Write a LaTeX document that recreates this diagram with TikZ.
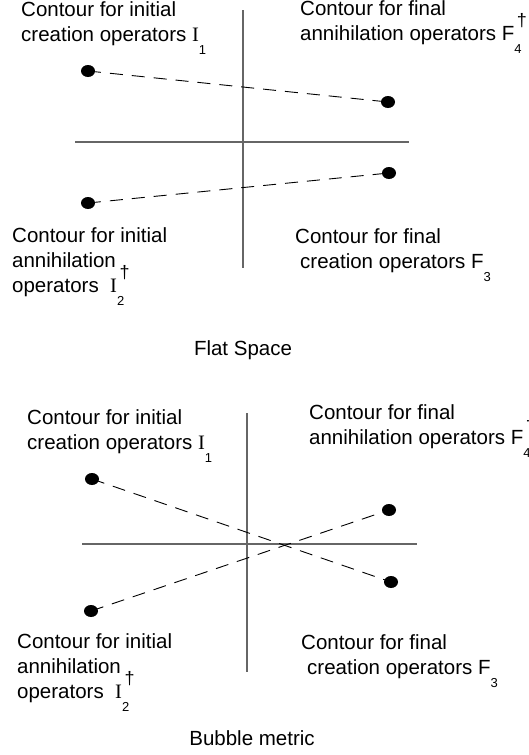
\documentclass[tikz,border=0pt]{standalone}
\usepackage{fontspec}
\setmainfont{Liberation Sans}
\newfontfamily\romanI{Liberation Serif}
\usepackage{tikz}
\usetikzlibrary{shapes.geometric}
\newcommand{\opsub}[1]{\rlap{\smash{\raisebox{-13pt}{\fontsize{13}{13}\selectfont #1}}}}
\newcommand{\opdag}{\rlap{\smash{\hspace{2.5pt}\raisebox{14pt}{\fontsize{18}{18}\selectfont †}}}}

\begin{document}
\begin{tikzpicture}[x=1pt,y=-1pt,
    axis/.style={gray!80!black,line width=1.1pt},
    contour/.style={dash pattern=on 13pt off 9pt,line width=0.9pt},
    pole/.style={ellipse,fill,inner sep=0,minimum width=14pt,minimum height=12pt},
    lbl/.style={anchor=base west,inner sep=0,align=left,font=\fontsize{20.5}{25}\selectfont},
    caption/.style={anchor=base,inner sep=0,font=\fontsize{20.5}{25}\selectfont}]
    \useasboundingbox (0,0) rectangle (528,755);

    % Flat space: axes
    \draw[axis] (243,10) -- (243,268);
    \draw[axis] (75,142) -- (409,142);

    % Flat space: poles and contours
    \node[pole] (fi1) at (88,71) {};
    \node[pole] (ff4) at (388,102) {};
    \node[pole] (fi2) at (88,203) {};
    \node[pole] (ff3) at (389,173) {};
    \draw[contour] (fi1.center) -- (ff4.center);
    \draw[contour] (fi2.center) -- (ff3.center);

    % Flat space: labels (placed at the baseline of the last line)
    \node[lbl] (fli1) at (21,41) {Contour for initial\\creation operators {\romanI I}\opsub{1}};
    \node[lbl] (flf4) at (300,40) {Contour for final\\annihilation operators F\opsub{4}\opdag};
    \node[lbl] (fli2) at (12,292) {Contour for initial\\annihilation\\operators\ \ {\romanI I}\opsub{2}\opdag};
    \node[lbl] (flf3) at (295,268) {Contour for final\\\hspace{5pt}creation operators F\opsub{3}};
    \node[caption] (flat) at (243,355) {Flat Space};

    % Bubble metric: axes
    \draw[axis] (247,413) -- (247,672);
    \draw[axis] (82,544) -- (417,544);

    % Bubble metric: poles and contours
    \node[pole] (bi1) at (92,479) {};
    \node[pole] (bf3) at (391,582) {};
    \node[pole] (bi2) at (91,611) {};
    \node[pole] (bf4) at (389,510) {};
    \draw[contour] (bi1.center) -- (bf3.center);
    \draw[contour] (bi2.center) -- (bf4.center);

    % Bubble metric: labels
    \node[lbl] (bli1) at (27,449) {Contour for initial\\creation operators {\romanI I}\opsub{1}};
    \node[lbl] (blf4) at (309,444) {Contour for final\\annihilation operators F\opsub{4}\opdag};
    \node[lbl] (bli2) at (17,698) {Contour for initial\\annihilation\\operators\ \ {\romanI I}\opsub{2}\opdag};
    \node[lbl] (blf3) at (301,674) {Contour for final\\\hspace{6pt}creation operators F\opsub{3}};
    \node[caption] (bubble) at (252,745) {Bubble metric};
\end{tikzpicture}
\end{document}
